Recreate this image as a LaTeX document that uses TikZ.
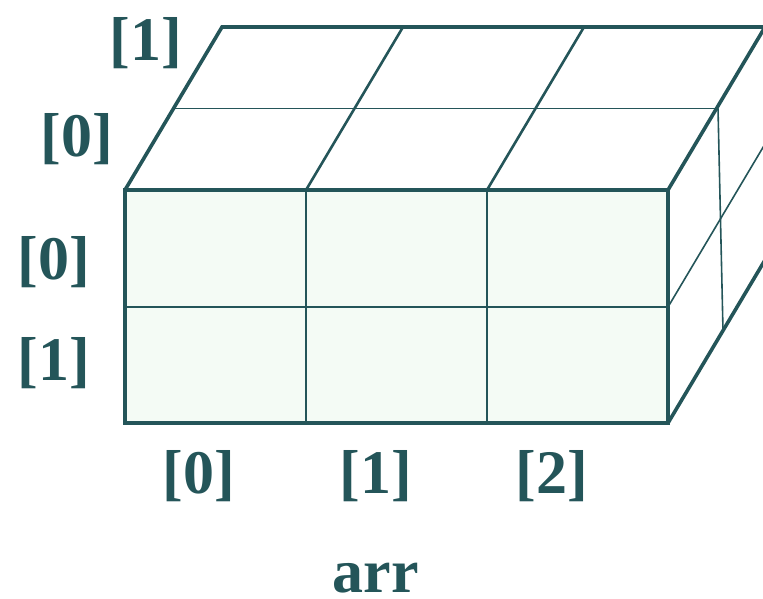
\documentclass[tikz,border=0pt]{standalone}
\usepackage{fontspec}
\setmainfont{Liberation Serif}
\definecolor{teal}{HTML}{245559}
\definecolor{mint}{HTML}{F4FBF5}
\begin{document}
\begin{tikzpicture}[x=1pt,y=-1pt,
  thick edge/.style={draw=teal,line width=3.6pt,line join=miter},
  mid edge/.style={draw=teal,line width=2.6pt},
  thin edge/.style={draw=teal,line width=1.6pt},
  lbl/.style={text=teal,font=\fontsize{62}{64}\selectfont\bfseries,anchor=base,inner sep=0pt}]
\useasboundingbox (0,0) rectangle (763,598);
% front face
\fill[mint] (125,190) rectangle (668,423);
\draw[thin edge] (306,190) -- (306,423) (487,190) -- (487,423) (125,307) -- (668,307);
% top face
\draw[thin edge] (173.5,108.5) -- (716.5,108.5);
\draw[mid edge] (306,190) -- (403,27) (487,190) -- (584,27);
% right face
\draw[thin edge] (668,307) -- (765,144);
\draw[thin edge] (718,108.5) -- (723,331);
\draw[thick edge] (668,423) -- (765,260);
\draw[thick edge] (125,190) -- (222,27) -- (765,27) -- (668,190);
\draw[thick edge] (125,190) rectangle (668,423);
% labels
\node[lbl] (t1) at (146,60) {[1]};
\node[lbl] (t0) at (77,156) {[0]};
\node[lbl] (r0) at (54,279) {[0]};
\node[lbl] (r1) at (54,380) {[1]};
\node[lbl] (c0) at (199,493) {[0]};
\node[lbl] (c1) at (376,493) {[1]};
\node[lbl] (c2) at (552,493) {[2]};
\node[lbl] (arr) at (376,592) {arr};
\end{tikzpicture}
\end{document}
